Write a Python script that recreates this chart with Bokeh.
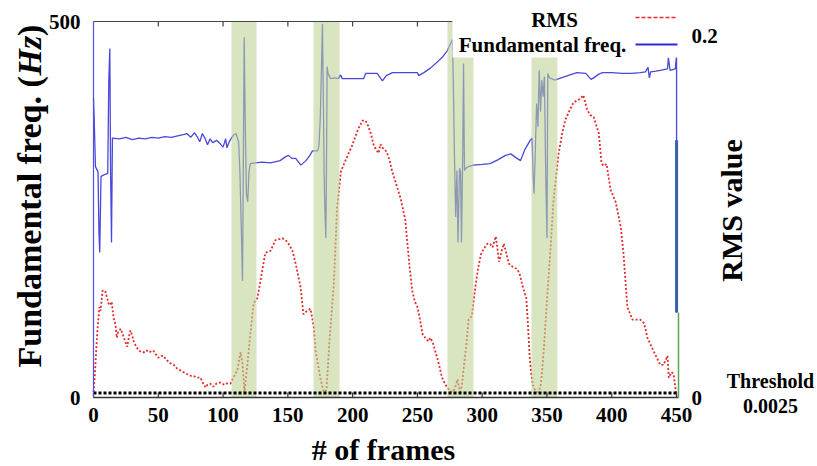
import math
from bokeh.plotting import figure
from bokeh.models import Range1d
from bokeh.core.properties import value
from bokeh.embed import file_html
from bokeh.resources import INLINE

# ---------------- data ----------------
f0_frames = [0, 0.5, 1.5, 3.5, 4.2, 4.8, 5.8, 8, 11, 11.8, 12.6, 13.2, 13.9, 14.6,
             20, 25, 30, 35, 40, 45, 50, 55, 60, 65, 70, 72, 75, 78, 80, 82, 84, 86, 88, 90, 92, 95, 98,
             100, 102, 103, 105, 108, 110, 112, 113, 114, 115, 115.6, 116.3, 117, 118, 119, 120, 121,
             125, 130, 136.6, 144, 148, 150.5, 153, 156, 160, 164, 167, 169, 173, 174, 175, 176, 176.7,
             177.5, 178, 178.6, 179.3, 179.8, 180.3, 181, 183, 186, 189, 190.6, 192, 200, 208.5, 210,
             219, 221, 223, 226, 230.7, 240, 250, 251, 255, 260, 264, 269, 273, 277, 277.7, 278.5,
             279.5, 280.5, 281.3, 282.5, 283.3, 284, 285, 285.6, 286.3, 288, 293, 300, 306, 312, 318,
             322, 326, 329.6, 333, 337, 338.5, 339.2, 340, 341, 342, 343, 344, 345, 346, 347, 348, 349,
             350, 350.6, 352, 356, 361, 366, 373, 380, 384, 386, 390, 393, 400, 408, 415, 422, 426,
             428, 429, 430, 434, 437.5, 443, 443.7, 445, 449, 450, 450]
f0_hz = [398, 373, 307, 300, 220, 193, 294, 296, 298, 421, 464, 300, 206, 345,
         344, 346, 343, 345, 344, 346, 345, 347, 346, 348, 350, 351, 346, 352, 347, 340, 351, 345, 336, 344, 339, 342, 337,
         333, 344, 332, 341, 349, 351, 340, 300, 230, 155, 300, 479, 380, 271, 260, 300, 311,
         312, 313, 312, 315, 320, 322, 318, 318, 309, 315, 322, 328, 328, 335, 370, 440, 497,
         380, 300, 250, 212, 300, 440, 431, 424, 425, 424, 429, 424, 424, 424, 431,
         431, 426, 421, 428, 432, 432, 432, 428, 432, 438, 444, 452, 461, 476, 420, 330,
         240, 302, 206, 305, 300, 206, 330, 444, 302, 306, 309, 310, 311, 316, 322,
         324, 319, 315, 330, 342, 345, 300, 271, 330, 391, 360, 435, 380, 422, 400, 427, 300,
         212, 431, 425, 422, 425, 428, 432, 431, 423, 425, 430, 432, 432, 431, 431, 432, 433,
         439, 425, 433, 434, 435, 437, 452, 435, 437, 455, 113]
f0_tail_frames = [450, 450]
f0_tail_hz = [113, 342]

rms_frames = [0, 1, 2, 3, 4, 4.5, 5.5, 7, 9, 10.5, 11.6, 13, 14, 15.5, 17, 18, 19, 21, 22.5, 23.5,
              25, 26, 27.5, 28.5, 30, 31, 33, 35, 37, 39, 41, 43, 46, 48, 50, 52, 54, 56, 59, 62,
              64.5, 67, 69.5, 72, 75, 77, 80, 82.5, 84.5, 86.5, 88, 90, 92.6, 95, 98, 101, 103, 105.7,
              108, 111, 113.5, 115, 116.5, 118.6, 121, 123.6, 126.5, 130, 132.6, 136.6, 140.5, 145.9,
              149.7, 153.6, 156, 159.8, 162, 165, 167.5, 170, 171.4, 175, 177.7, 179.8, 182, 185.5,
              188, 191, 194.5, 199.5, 203.5, 207.5, 210, 212, 214, 216, 218, 220, 221.5, 223, 225,
              226.6, 228.5, 230.5, 234, 237, 240.7, 242, 244, 246, 248, 250, 252, 254, 256, 258.5,
              260, 262, 264, 266, 268, 269, 271, 273, 275, 277, 279, 281, 282, 283, 284.5, 285.5,
              287.6, 289.5, 292, 294.7, 297, 299, 301, 304, 306, 308, 310.5, 313, 315, 316.7, 318.5,
              320.5, 322, 324, 327, 329, 331, 334, 335, 336.7, 338, 339.5, 341, 342.6, 345, 346.3,
              347.5, 350, 353, 355, 359, 361.5, 364, 367, 370.5, 373, 375.7, 378, 381, 383.5, 386,
              390, 392, 393.5, 396, 399, 403, 407, 409, 412, 416, 419.5, 422, 425, 427.5, 432,
              437.5, 440, 443, 444, 446, 447.7, 449, 450]
rms_values = [0.003, 0.012, 0.025, 0.037, 0.045, 0.050, 0.048, 0.059, 0.059, 0.055, 0.052, 0.051, 0.053, 0.044, 0.040, 0.033, 0.036, 0.038, 0.035, 0.033,
              0.030, 0.028, 0.034, 0.037, 0.034, 0.031, 0.028, 0.026, 0.025, 0.025, 0.026, 0.025, 0.026, 0.024, 0.022, 0.023, 0.023, 0.021, 0.019, 0.018,
              0.016, 0.015, 0.014, 0.013, 0.012, 0.012, 0.011, 0.011, 0.008, 0.0055, 0.007, 0.0077, 0.006, 0.0078, 0.0083, 0.007, 0.0078, 0.0077,
              0.011, 0.015, 0.025, 0.019, 0.003, 0.017, 0.035, 0.052, 0.055, 0.069, 0.080, 0.081, 0.087, 0.088,
              0.086, 0.081, 0.074, 0.061, 0.046, 0.048, 0.049, 0.039, 0.026, 0.011, 0.003, 0.004, 0.030, 0.063,
              0.105, 0.125, 0.131, 0.139, 0.147, 0.153, 0.153, 0.150, 0.146, 0.140, 0.137, 0.135, 0.140, 0.138, 0.137,
              0.135, 0.131, 0.125, 0.117, 0.110, 0.098, 0.087, 0.072, 0.059, 0.053, 0.050, 0.043, 0.035, 0.033, 0.031,
              0.033, 0.030, 0.025, 0.020, 0.014, 0.011, 0.008, 0.0055, 0.004, 0.003, 0.005, 0.010, 0.006, 0.002, 0.008, 0.015,
              0.028, 0.043, 0.045, 0.061, 0.072, 0.079, 0.082, 0.085, 0.085, 0.083, 0.089, 0.075, 0.081, 0.085, 0.080,
              0.074, 0.073, 0.072, 0.071, 0.068, 0.062, 0.055, 0.044, 0.022, 0.012, 0.0055, 0.004, 0.003, 0.0055, 0.015,
              0.026, 0.054, 0.085, 0.109, 0.135, 0.145, 0.153, 0.158, 0.163, 0.164, 0.165, 0.167, 0.159, 0.156, 0.155,
              0.146, 0.130, 0.128, 0.129, 0.115, 0.108, 0.094, 0.080, 0.050, 0.043, 0.043, 0.043, 0.041, 0.033, 0.026,
              0.018, 0.018, 0.023, 0.011, 0.014, 0.013, 0.006, 0.001]

shade_start = [106.5, 169.8, 273.2, 338.0]
shade_end = [125.8, 189.9, 293.3, 358.0]
threshold = 0.0025
x_ticks = [0, 50, 100, 150, 200, 250, 300, 350, 400, 450]
f0_ticks = [0, 500]
rms_ticks = [0, 0.2]
rms_tick_labels = ["0", "0.2"]

# ---------------- layout (pixel <-> data) ----------------
W, H = 817, 466
PX0, PY0 = 93.0, 397.0            # pixel of frame 0 / value 0
PPF = 585.0 / 451.5               # pixels per frame
PPH = 376.0 / 500.0               # pixels per Hz
PPR = 362.0 / 0.2                 # pixels per RMS unit


def fx(px):
    return (px - PX0) / PPF


def fy(py):
    return (PY0 - py) / PPH


def fr(py):
    return (PY0 - py) / PPR


SERIF = value("Liberation Serif")

p = figure(width=W, height=H, output_backend="svg", toolbar_location=None,
           x_range=Range1d(fx(0), fx(W)), y_range=Range1d(fy(H), fy(0)),
           x_axis_location=None, y_axis_location=None,
           min_border=0, min_border_left=0, min_border_right=0,
           min_border_top=0, min_border_bottom=0)
p.extra_y_ranges = {"rms": Range1d(fr(H), fr(0))}
p.outline_line_color = None
p.xgrid.visible = False
p.ygrid.visible = False
p.background_fill_color = "white"
p.border_fill_color = "white"

# data lines
p.line(rms_frames, rms_values, y_range_name="rms", line_color="#e52a2a",
       line_width=1.8, line_dash="2 2")
p.line(f0_frames, f0_hz, line_color="#4848dc", line_width=1.3)
p.line(f0_tail_frames, f0_tail_hz, line_color="#3a5fb0", line_width=3)

# shaded regions (semi-transparent, over the lines)
p.quad(left=shade_start, right=shade_end, bottom=0, top=500,
       fill_color="#bed295", fill_alpha=0.59, line_color=None)

# threshold
p.line([x_ticks[0], x_ticks[-1]], [threshold, threshold], y_range_name="rms",
       line_color="black", line_width=3, line_dash="3 2")

# frame lines / axes
x_end = fx(678)
tick_px = 5
p.line([0, x_end], [0, 0], line_color="#333333", line_width=1.5)                 # bottom axis
p.segment(x0=x_ticks, y0=[0] * len(x_ticks), x1=x_ticks,
          y1=[tick_px / PPH] * len(x_ticks), line_color="#333333", line_width=1.2)
p.line([0, 0], [f0_ticks[0], f0_ticks[-1]], line_color="#5050e0", line_width=1.2)  # left axis
p.line([x_end, x_end], [0, fr(312)], y_range_name="rms", line_color="#5aa55a", line_width=1.5)  # right axis
top_end = fx(452)
p.line([0, top_end], [500, 500], line_color="#444444", line_width=1.2)            # top border
top_ticks = [t for t in x_ticks if 0 < t < top_end]
p.segment(x0=top_ticks, y0=[500] * len(top_ticks), x1=top_ticks,
          y1=[500 - tick_px / PPH] * len(top_ticks), line_color="#444444", line_width=1.2)

# legend box (white, covers the plot area under it)
p.quad(left=[fx(452)], right=[fx(679.5)], bottom=[fy(57)], top=[fy(-5)],
       fill_color="white", line_color=None)
p.line([fx(635), fx(677)], [fy(17), fy(17)], line_color="#e52a2a", line_width=1.6, line_dash="4 2")
p.line([fx(635), fx(677)], [fy(44), fy(44)], line_color="#2a2ad8", line_width=2)


def txt(xs, ys, texts, size, align="center", baseline="middle", angle=0.0,
        style="bold", y_range_name="default"):
    p.text(x=xs, y=ys, text=texts, text_font=SERIF, text_font_style=style,
           text_font_size=size, text_align=align, text_baseline=baseline,
           angle=angle, text_color="black", y_range_name=y_range_name)


# legend texts
txt([fx(554)], [fy(19)], ["RMS"], "21px")
txt([fx(542)], [fy(44)], ["Fundamental freq."], "21px")

# tick labels
txt(x_ticks, [fy(414)] * len(x_ticks), [str(t) for t in x_ticks], "21px")
txt([fx(80)] * len(f0_ticks), f0_ticks, [str(t) for t in f0_ticks], "21px", align="right")
txt([fx(691)] * len(rms_ticks), rms_ticks, rms_tick_labels, "21px", align="left",
    y_range_name="rms")

# axis titles
up = math.pi / 2
txt([fx(29)], [fy(367)], ["Fundamental freq. ("], "34px", align="left", angle=up)
txt([fx(29)], [fy(75)], ["Hz"], "34px", align="left", angle=up, style="bold italic")
txt([fx(29)], [fy(35.5)], [")"], "34px", align="left", angle=up)
txt([fx(731)], [fy(210)], ["RMS value"], "30px", angle=up)
txt([fx(383)], [fy(449)], ["# of frames"], "30px")
txt([fx(770)], [fy(380)], ["Threshold"], "20px")
txt([fx(770)], [fy(405)], ["0.0025"], "20px")

open("out.html", "w").write(file_html(p, INLINE))
